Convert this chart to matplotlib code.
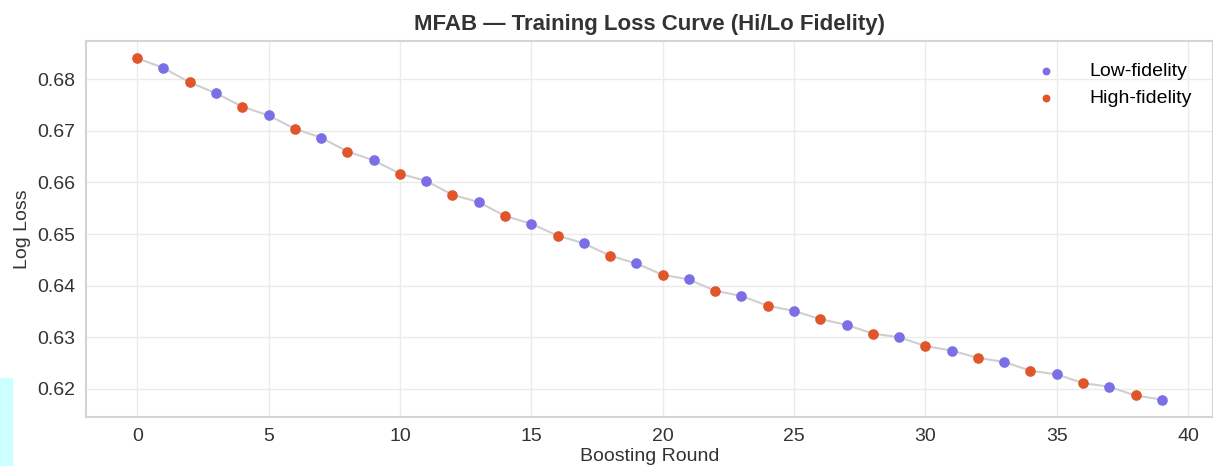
import numpy as np
import matplotlib
matplotlib.use("Agg")
import matplotlib.pyplot as plt
from matplotlib.patches import Rectangle

# Данные: потери на каждом раунде бустинга
rounds = np.arange(40)
loss = [0.6841, 0.6822, 0.6794, 0.6773, 0.6747, 0.6730, 0.6704, 0.6687,
        0.6660, 0.6643, 0.6617, 0.6603, 0.6576, 0.6562, 0.6535, 0.6520,
        0.6497, 0.6482, 0.6458, 0.6443, 0.6421, 0.6412, 0.6390, 0.6380,
        0.6361, 0.6351, 0.6335, 0.6324, 0.6307, 0.6300, 0.6283, 0.6274,
        0.6260, 0.6252, 0.6235, 0.6228, 0.6211, 0.6204, 0.6187, 0.6179]
# чётные раунды - high fidelity, нечётные - low fidelity
is_high = [r % 2 == 0 for r in rounds]

loss = np.array(loss)
is_high = np.array(is_high)

plt.rcParams['font.family'] = ['Liberation Sans', 'DejaVu Sans']

fig = plt.figure(figsize=(12.13, 4.66), dpi=100)
ax = fig.add_axes([0.0709, 0.1058, 0.9291, 0.806])

ax.plot(rounds, loss, color='#cfcfcf', lw=1.5, zorder=1)
ax.scatter(rounds[~is_high], loss[~is_high], s=44, color='#7b6fe8', label='Low-fidelity', zorder=3)
ax.scatter(rounds[is_high], loss[is_high], s=44, color='#e0552a', label='High-fidelity', zorder=3)

ax.set_xticks(np.arange(0, 41, 5))
ax.set_yticks([0.62, 0.63, 0.64, 0.65, 0.66, 0.67, 0.68])
ax.grid(True, color='#ebebeb', lw=1)
ax.set_axisbelow(True)
for s in ax.spines.values():
    s.set_color('#d4d4d4')
    s.set_linewidth(1.5)
ax.tick_params(length=0, labelsize=14, colors='#333333', pad=8)

ax.set_title('MFAB — Training Loss Curve (Hi/Lo Fidelity)', fontsize=16, fontweight='bold', color='#333333', pad=8)
ax.set_xlabel('Boosting Round', fontsize=14, color='#333333', labelpad=2)
ax.set_ylabel('Log Loss', fontsize=14, color='#333333', labelpad=4)

ax.legend(loc='upper right', frameon=False, fontsize=14, handletextpad=1.2,
          borderaxespad=0.6, labelspacing=0.5, markerscale=0.7, borderpad=0.5)

# бирюзовый артефакт в левом нижнем углу скриншота
fig.patches.append(Rectangle((0, 0), 12 / 1213, 88 / 466, transform=fig.transFigure,
                             color='#ccffff', zorder=0))

fig.savefig('out.png', dpi=100)
